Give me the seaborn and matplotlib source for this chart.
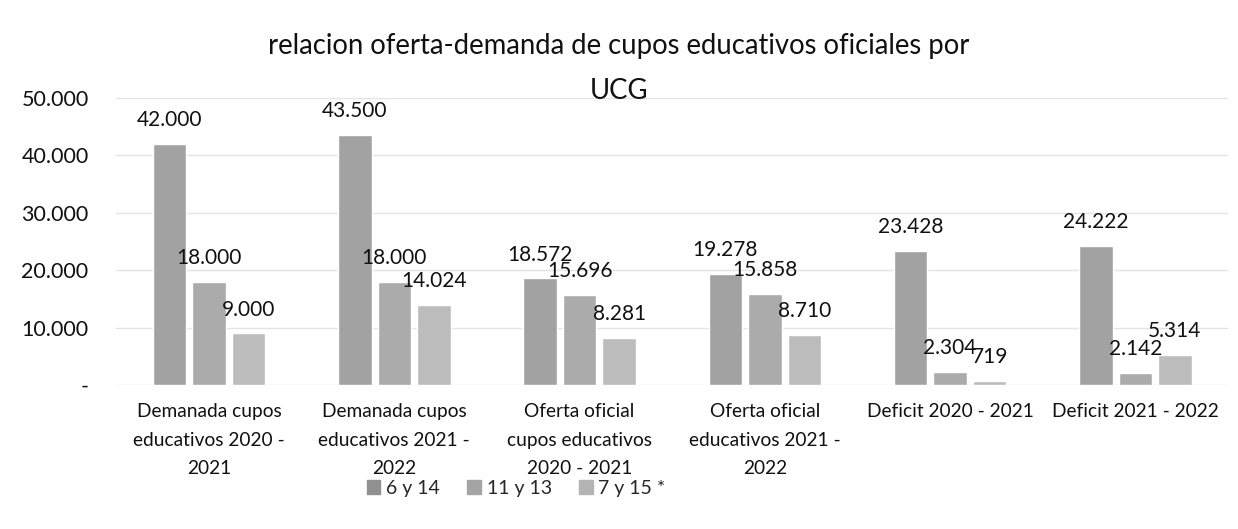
import matplotlib
matplotlib.use("Agg")
import matplotlib.pyplot as plt
import seaborn as sns
import pandas as pd

# Data
categories = [
    "Demanada cupos\neducativos 2020 -\n2021",
    "Demanada cupos\neducativos 2021 -\n2022",
    "Oferta oficial\ncupos educativos\n2020 - 2021",
    "Oferta oficial\neducativos 2021 -\n2022",
    "Deficit 2020 - 2021",
    "Deficit 2021 - 2022",
]
series_names = ["6 y 14", "11 y 13", "7 y 15 *"]
vals_6_14 = [42000, 43500, 18572, 19278, 23428, 24222]
vals_11_13 = [18000, 18000, 15696, 15858, 2304, 2142]
vals_7_15 = [9000, 14024, 8281, 8710, 719, 5314]
y_ticks = [0, 10000, 20000, 30000, 40000, 50000]
y_tick_labels = ["-", "10.000", "20.000", "30.000", "40.000", "50.000"]

rows = []
for name, vals in zip(series_names, [vals_6_14, vals_11_13, vals_7_15]):
    for cat, v in zip(categories, vals):
        rows.append({"categoria": cat, "grupo": name, "valor": v})
df = pd.DataFrame(rows)

sns.set_theme(style="white")
plt.rcParams["font.family"] = ["Lato", "DejaVu Sans"]

fig = plt.figure(figsize=(12.38, 5.29), dpi=100)
ax = fig.add_axes([0.094, 0.272, 0.898, 0.543])

palette = ["#a2a2a2", "#ababab", "#bcbcbc"]
sns.barplot(data=df, x="categoria", y="valor", hue="grupo",
            order=categories, hue_order=series_names, palette=palette,
            width=0.64, gap=0.15, saturation=1, errorbar=None, ax=ax)

ax.set_ylim(0, 50000)
ax.set_yticks(y_ticks)
ax.set_yticklabels(y_tick_labels, fontsize=15.5, color="#111111")
ax.yaxis.grid(True, color="#e4e4e4", linewidth=1)
ax.set_axisbelow(True)
ax.tick_params(axis="x", labelsize=13.8, colors="#111111", pad=13, length=0)
ax.tick_params(axis="y", pad=20, length=0)
for lbl in ax.get_xticklabels():
    lbl.set_linespacing(1.82)
for s in ax.spines.values():
    s.set_visible(False)
ax.set_xlabel("")
ax.set_ylabel("")

def fmt(v):
    return f"{v:,.0f}".replace(",", ".")

for container in ax.containers:
    ax.bar_label(container, labels=[fmt(b.get_height()) for b in container],
                 padding=10, fontsize=15, color="#111111")

ax.legend_.remove()
handles = [plt.Rectangle((0, 0), 1, 1, color=c) for c in ["#909090", "#a4a4a4", "#b4b4b4"]]
fig.legend(handles, series_names, loc="center", bbox_to_anchor=(0.417, 0.077),
           ncol=3, frameon=False, fontsize=14, handlelength=0.7, handleheight=0.7,
           handletextpad=0.3, columnspacing=1.4)

fig.text(0.5, 0.871, "relacion oferta-demanda de cupos educativos oficiales por\nUCG",
         ha="center", va="center", fontsize=19.8, color="#111111", linespacing=1.9)

fig.savefig("out.png", dpi=100, facecolor="white")
